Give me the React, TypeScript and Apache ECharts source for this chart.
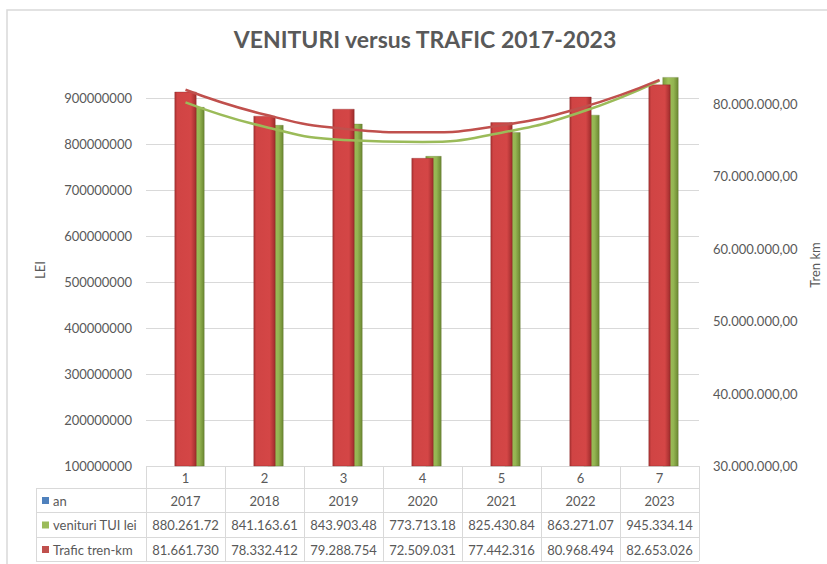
import React, { useEffect, useRef } from "react";
import * as echarts from "echarts";

const categories = ["1", "2", "3", "4", "5", "6", "7"];
const years = ["2017", "2018", "2019", "2020", "2021", "2022", "2023"];
const venituri = [880261720, 841163610, 843903480, 773713180, 825430840, 863271070, 945334140];
const trafic = [81661730, 78332412, 79288754, 72509031, 77442316, 80968494, 82653026];
const venituriLabels = ["880.261.72", "841.163.61", "843.903.48", "773.713.18", "825.430.84", "863.271.07", "945.334.14"];
const traficLabels = ["81.661.730", "78.332.412", "79.288.754", "72.509.031", "77.442.316", "80.968.494", "82.653.026"];
// polynomial trend lines
const trendVenituri = [890650000, 837520000, 808790000, 804480000, 824580000, 869080000, 937990000];
const trendTrafic = [81940000, 78520000, 76560000, 76060000, 77020000, 79440000, 83310000];

const FONT = "Lato";
const TXT = "#595959";
const LINE = "#d9d9d9";

const GL = 146;
const GT = 52; // extended plot top (headroom so bars above the last gridline are not clipped)
const GW = 553;
const GH = 414;
const LEFT_MIN = 100000000;
const LEFT_MAX = 1000000000;
const RIGHT_MIN = 30000000;
const RIGHT_MAX = 87150000;

function fmtTren(v: number) {
  return Math.round(v).toString().replace(/\B(?=(\d{3})+(?!\d))/g, ".") + ",00";
}

export default function App() {
  const ref = useRef<HTMLDivElement>(null);
  useEffect(() => {
    document.body.style.margin = "0";
    if (!ref.current) return;
    const chart = echarts.init(ref.current, undefined, { renderer: "svg" });
    const cw = GW / categories.length;
    const bottom = GT + GH;
    const rows = [488, 512, 537, 561];
    const graphics: any[] = [];
    graphics.push({
      type: "rect",
      shape: { x: 7, y: 10, width: 840, height: 580 },
      style: { fill: "none", stroke: LINE, lineWidth: 1.5 },
      silent: true,
    });
    graphics.push({ type: "line", shape: { x1: GL, y1: bottom + 0.5, x2: GL + GW, y2: bottom + 0.5 }, style: { stroke: LINE, lineWidth: 1 } });
    rows.forEach((y) => {
      graphics.push({ type: "line", shape: { x1: 36, y1: y + 0.5, x2: GL + GW, y2: y + 0.5 }, style: { stroke: LINE, lineWidth: 1 } });
    });
    graphics.push({ type: "line", shape: { x1: 36.5, y1: rows[0], x2: 36.5, y2: rows[3] }, style: { stroke: LINE, lineWidth: 1 } });
    for (let i = 0; i <= categories.length; i++) {
      const x = Math.round(GL + cw * i) + 0.5;
      graphics.push({ type: "line", shape: { x1: x, y1: bottom, x2: x, y2: rows[3] }, style: { stroke: LINE, lineWidth: 1 } });
    }
    const rowDefs = [
      { label: "an", color: "#4f81bd", values: years },
      { label: "venituri TUI lei", color: "#9bbb59", values: venituriLabels },
      { label: "Trafic tren-km", color: "#c0504d", values: traficLabels },
    ];
    rowDefs.forEach((r, ri) => {
      const cy = (rows[ri] + rows[ri + 1]) / 2 + 0.5;
      graphics.push({
        type: "rect",
        shape: { x: 42, y: cy - 3.5, width: 7, height: 7 },
        style: { fill: r.color },
      });
      graphics.push({
        type: "text",
        x: 53,
        y: cy,
        style: { text: r.label, fill: TXT, font: `13px ${FONT}`, textAlign: "left", textVerticalAlign: "middle" },
      });
      r.values.forEach((v, i) => {
        graphics.push({
          type: "text",
          x: GL + cw * (i + 0.5),
          y: cy,
          style: { text: v, fill: TXT, font: `13px ${FONT}`, textAlign: "center", textVerticalAlign: "middle" },
        });
      });
    });
    // axis titles
    graphics.push({
      type: "text",
      x: 40,
      y: 270,
      rotation: Math.PI / 2,
      style: { text: "LEI", fill: TXT, font: `13px ${FONT}`, textAlign: "center", textVerticalAlign: "middle" },
    });
    graphics.push({
      type: "text",
      x: 815,
      y: 265,
      rotation: Math.PI / 2,
      style: { text: "Tren km", fill: TXT, font: `13px ${FONT}`, textAlign: "center", textVerticalAlign: "middle" },
    });

    chart.setOption({
      animation: false,
      backgroundColor: "#ffffff",
      textStyle: { fontFamily: FONT },
      title: {
        text: "VENITURI versus TRAFIC 2017-2023",
        left: 425,
        top: 27,
        padding: 0,
        textAlign: "center",
        textStyle: { color: TXT, fontSize: 23, fontWeight: "bold", fontFamily: FONT },
      },
      grid: [
        { left: GL, top: GT, width: GW, height: GH },
        { left: GL + 11, top: GT, width: GW, height: GH },
      ],
      xAxis: [
        {
          type: "category",
          gridIndex: 0,
          data: categories,
          axisLine: { show: false },
          axisTick: { show: false },
          axisLabel: { color: TXT, fontSize: 13, margin: 5, fontFamily: FONT },
        },
        { type: "category", gridIndex: 1, data: categories, show: false },
      ],
      yAxis: [
        {
          type: "value",
          gridIndex: 0,
          position: "left",
          min: LEFT_MIN,
          max: LEFT_MAX,
          interval: 100000000,
          axisLine: { show: false },
          axisTick: { show: false },
          axisLabel: { color: TXT, fontSize: 13, margin: 14, fontFamily: FONT, showMaxLabel: false, formatter: (v: number) => String(v) },
          splitLine: { showMaxLine: false, lineStyle: { color: LINE, width: 1 } },
        },
        {
          type: "value",
          gridIndex: 0,
          position: "right",
          min: RIGHT_MIN,
          max: RIGHT_MAX,
          interval: 10000000,
          axisLine: { show: false },
          axisTick: { show: false },
          axisLabel: { color: TXT, fontSize: 13, margin: 14, fontFamily: FONT, showMaxLabel: false, formatter: fmtTren },
          splitLine: { show: false },
        },
        {
          type: "value",
          gridIndex: 1,
          min: LEFT_MIN,
          max: LEFT_MAX,
          interval: 100000000,
          show: false,
          splitLine: { show: false },
        },
      ],
      graphic: graphics,
      series: [
        {
          name: "venituri TUI lei",
          type: "bar",
          xAxisIndex: 1,
          yAxisIndex: 2,
          data: venituri,
          barWidth: 16,
          z: 2,
          itemStyle: {
            color: new echarts.graphic.LinearGradient(0, 0, 1, 0, [
              { offset: 0, color: "#7d9b3c" },
              { offset: 0.35, color: "#9fc15a" },
              { offset: 0.7, color: "#93b451" },
              { offset: 1, color: "#6a8630" },
            ]),
            borderColor: "rgba(90,110,40,0.6)",
            borderWidth: 0.5,
          },
        },
        {
          name: "Trafic tren-km",
          type: "bar",
          xAxisIndex: 0,
          yAxisIndex: 1,
          data: trafic,
          barWidth: 22,
          z: 3,
          itemStyle: {
            color: new echarts.graphic.LinearGradient(0, 0, 1, 0, [
              { offset: 0, color: "#a83232" },
              { offset: 0.12, color: "#d04444" },
              { offset: 0.75, color: "#d44646" },
              { offset: 1, color: "#9e2c2c" },
            ]),
            borderColor: "rgba(120,30,30,0.6)",
            borderWidth: 0.5,
          },
        },
        {
          name: "Trend venituri",
          type: "line",
          xAxisIndex: 0,
          yAxisIndex: 0,
          data: trendVenituri,
          smooth: true,
          symbol: "none",
          z: 5,
          lineStyle: { color: "#9bbb59", width: 2.5 },
        },
        {
          name: "Trend trafic",
          type: "line",
          xAxisIndex: 0,
          yAxisIndex: 1,
          data: trendTrafic,
          smooth: true,
          symbol: "none",
          z: 5,
          lineStyle: { color: "#c0504d", width: 2.5 },
        },
      ],
    });
    return () => chart.dispose();
  }, []);
  return <div ref={ref} style={{ width: 827, height: 564 }} />;
}
